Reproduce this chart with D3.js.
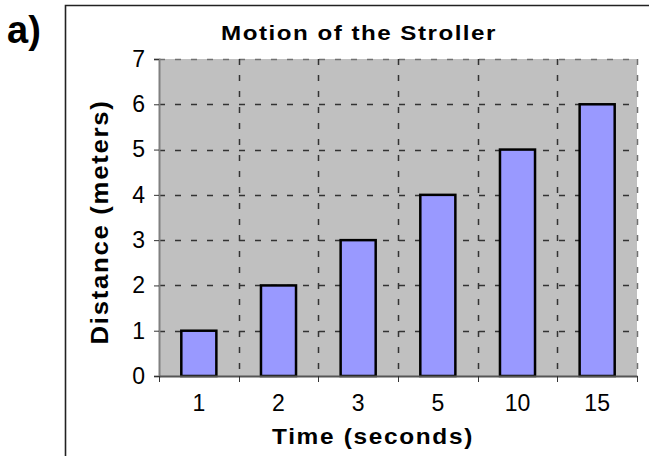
<!DOCTYPE html>
<html><head><meta charset="utf-8">
<script src="https://cdn.jsdelivr.net/npm/d3@7"></script>
<style>body{margin:0;background:#fff}svg{display:block}text{font-family:"Liberation Sans",Arial,sans-serif}</style>
</head><body><svg id="c" width="649" height="456"></svg>
<script>
const categories = ["1","2","3","5","10","15"];
const distances = [1,2,3,4,5,6];
const yTicks = [0,1,2,3,4,5,6,7];
const titleText = "Motion of the Stroller";
const xTitle = "Time (seconds)";
const yTitle = "Distance (meters)";

const svg = d3.select("#c");
const m = {l:159, r:637, t:59, b:376};
const x = d3.scaleBand().domain(categories).range([m.l,m.r]).paddingInner(0.56).paddingOuter(0.28);
const xb = d3.scaleBand().domain(categories).range([m.l,m.r]);
const y = d3.scaleLinear().domain([0,7]).range([m.b,m.t]);

// frame
svg.append("path").attr("d","M65.5,456V5.5H649").attr("fill","none").attr("stroke","#222").attr("stroke-width",1.6);
svg.append("text").attr("x",7).attr("y",43).attr("font-size",38).attr("font-weight","bold").text("a)");

// plot bg
svg.append("rect").attr("x",m.l).attr("y",m.t).attr("width",m.r-m.l).attr("height",m.b-m.t).attr("fill","#c0c0c0");

// grid horizontal
svg.append("g").selectAll("line").data(yTicks.filter(d=>d>0)).join("line")
  .attr("x1",m.l).attr("x2",m.r).attr("y1",d=>Math.round(y(d))+0.5).attr("y2",d=>Math.round(y(d))+0.5)
  .attr("stroke",d=>d===7?"#707070":"#333").attr("stroke-width",1.5).attr("stroke-dasharray","6,10");
// grid vertical
const bounds = categories.slice(1).map(c=>xb(c)).concat([m.r]);
svg.append("g").selectAll("line").data(bounds).join("line")
  .attr("x1",d=>Math.round(d)+0.5).attr("x2",d=>Math.round(d)+0.5).attr("y1",m.t).attr("y2",m.b)
  .attr("stroke",(d,i)=>i===bounds.length-1?"#707070":"#333").attr("stroke-width",1.5).attr("stroke-dasharray","6,10");

// bars
svg.append("g").selectAll("rect").data(distances).join("rect")
  .attr("x",(d,i)=>x(categories[i])).attr("width",x.bandwidth())
  .attr("y",d=>y(d)).attr("height",d=>y(0)-y(d))
  .attr("fill","#9999ff").attr("stroke","#000").attr("stroke-width",2.5);

// y axis
const ya = svg.append("g").attr("transform",`translate(${m.l},0)`)
  .call(d3.axisLeft(y).tickValues(yTicks).tickSize(5).tickPadding(9).tickFormat(d3.format("d")));
ya.select(".domain").attr("stroke","#808080").attr("stroke-width",2);
ya.selectAll(".tick line").attr("stroke","#333");
ya.selectAll("text").attr("font-size",23).attr("fill","#000").style("font-family","Liberation Sans, Arial");

// x axis
const xa = svg.append("g").attr("transform",`translate(0,${m.b})`)
  .call(d3.axisBottom(xb).tickSize(0).tickPadding(19));
xa.select(".domain").attr("stroke","#555").attr("stroke-width",2);
xa.selectAll("text").attr("font-size",23).attr("fill","#000").style("font-family","Liberation Sans, Arial");
svg.append("g").selectAll("line").data([m.l].concat(bounds)).join("line")
  .attr("x1",d=>Math.round(d)+0.5).attr("x2",d=>Math.round(d)+0.5).attr("y1",m.b).attr("y2",m.b+6).attr("stroke","#333");

// titles
function stretchedText(str, cx, cy, rot, size, spacing, targetW){
  const t = svg.append("text").attr("text-anchor","middle").attr("font-size",size)
    .attr("font-weight","bold").attr("letter-spacing",spacing).text(str);
  const w = t.node().getComputedTextLength();
  const k = targetW / w;
  t.attr("transform",`translate(${cx},${cy}) rotate(${rot}) scale(${k},1)`);
  return t;
}
stretchedText(titleText, 359, 40, 0, 21, 1.3, 276);
stretchedText(xTitle, 373, 444, 0, 22, 1.5, 202);
stretchedText(yTitle, 108, 222, -90, 23, 1.5, 245);
</script></body></html>
